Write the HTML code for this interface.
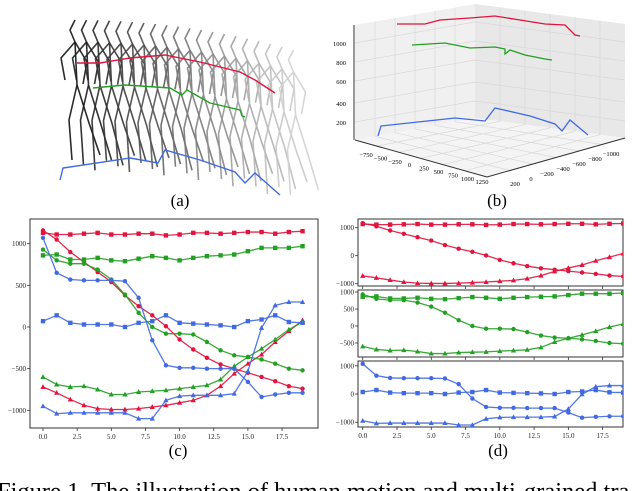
<!DOCTYPE html>
<html><head><meta charset="utf-8">
<style>
html,body{margin:0;padding:0;background:#fff;}
body{width:640px;height:491px;overflow:hidden;position:relative;font-family:"Liberation Serif",serif;}
svg{position:absolute;left:0;top:0;}
</style></head>
<body>
<svg id="fig" width="640" height="491" viewBox="0 0 640 491">
  <g id="panelA"></g>
  <g id="panelB"></g>
  <g id="panelC"></g>
  <g id="panelD"></g>
  <text x="180" y="206" font-size="17" text-anchor="middle">(a)</text>
  <text x="497" y="206" font-size="17" text-anchor="middle">(b)</text>
  <text x="178" y="456" font-size="17" text-anchor="middle">(c)</text>
  <text x="498" y="456" font-size="17" text-anchor="middle">(d)</text>
  <text x="-3" y="499" font-size="24.5">Figure 1. The illustration of human motion and multi-grained tra</text>
</svg>
<script>
const NS="http://www.w3.org/2000/svg";
function mk(tag,attrs,parent){const e=document.createElementNS(NS,tag);for(const k in attrs)e.setAttribute(k,attrs[k]);parent.appendChild(e);return e;}

// ---- chart data (c) & (d) ----
const frames=[0,1,2,3,4,5,6,7,8,9,10,11,12,13,14,15,16,17,18,19];
const xTicks=[0,2.5,5,7.5,10,12.5,15,17.5];
const xTickLabels=["0.0","2.5","5.0","7.5","10.0","12.5","15.0","17.5"];
const redSquares=[1130,1110,1110,1120,1130,1110,1110,1120,1120,1100,1110,1130,1130,1120,1130,1140,1140,1120,1140,1150];
const redCircles=[1160,1050,900,780,660,540,380,250,140,10,-150,-270,-370,-450,-500,-550,-600,-650,-710,-740];
const redTriangles=[-720,-790,-870,-940,-980,-990,-990,-980,-960,-940,-910,-880,-820,-710,-560,-440,-330,-180,-50,80];
const greenSquares=[860,870,810,810,830,800,790,820,850,830,800,830,850,860,870,910,950,950,950,970];
const greenCircles=[930,800,760,760,690,570,390,170,0,-80,-80,-90,-180,-280,-340,-360,-390,-440,-500,-520];
const greenTriangles=[-600,-690,-720,-710,-750,-810,-810,-780,-770,-760,-740,-720,-700,-630,-470,-360,-260,-150,-30,60];
const blueSquares=[70,140,50,30,30,30,0,50,70,140,50,40,30,20,0,70,90,140,60,50];
const blueCircles=[1070,650,570,560,560,560,550,350,-160,-460,-490,-490,-500,-500,-500,-660,-840,-810,-790,-790];
const blueTriangles=[-950,-1040,-1030,-1030,-1030,-1030,-1030,-1100,-1100,-880,-830,-820,-820,-820,-800,-530,-10,260,300,300];
const cYTicks=[-1000,-500,0,500,1000];
const d1YTicks=[-1000,0,1000];
const d2YTicks=[-500,0,500,1000];
const d3YTicks=[-1000,0,1000];

const RED="#e0143c",GREEN="#22a022",BLUE="#4169e1";
const seriesList=[
 {name:"red-squares",v:redSquares,c:RED,m:"s",g:0},
 {name:"red-circles",v:redCircles,c:RED,m:"o",g:0},
 {name:"red-triangles",v:redTriangles,c:RED,m:"t",g:0},
 {name:"green-squares",v:greenSquares,c:GREEN,m:"s",g:1},
 {name:"green-circles",v:greenCircles,c:GREEN,m:"o",g:1},
 {name:"green-triangles",v:greenTriangles,c:GREEN,m:"t",g:1},
 {name:"blue-squares",v:blueSquares,c:BLUE,m:"s",g:2},
 {name:"blue-circles",v:blueCircles,c:BLUE,m:"o",g:2},
 {name:"blue-triangles",v:blueTriangles,c:BLUE,m:"t",g:2}
];

function marker(g,m,x,y,c){
  let e;
  if(m==="s") e=mk("rect",{x:x-2.2,y:y-2.2,width:4.4,height:4.4,fill:c},g);
  else if(m==="o") e=mk("circle",{cx:x,cy:y,r:2.2,fill:c},g);
  else e=mk("polygon",{points:`${x},${y-2.8} ${x+2.6},${y+2} ${x-2.6},${y+2}`,fill:c},g);
  
  
}

function axesBox(parent,L,R,T,B,sx,sy,yTicks,showX,name){
  const g=mk("g",{},parent);
  
  
  const box=mk("rect",{x:L,y:T,width:R-L,height:B-T,fill:"none",stroke:"#333","stroke-width":1},g);
  
  
  yTicks.forEach(t=>{
    const y=sy(t);
    mk("line",{x1:L-3,x2:L,y1:y,y2:y,stroke:"#333","stroke-width":0.8},g);
    const tx=mk("text",{x:L-4,y:y+2.5,"font-size":7,"text-anchor":"end",fill:"#222"},g);
    tx.textContent=t<0?"\u2212"+Math.abs(t):String(t);
    
    
  });
  xTicks.forEach((t,i)=>{
    const x=sx(t);
    mk("line",{x1:x,x2:x,y1:B,y2:B+3,stroke:"#333","stroke-width":0.8},g);
    if(showX){
      const tx=mk("text",{x:x,y:B+11,"font-size":7,"text-anchor":"middle",fill:"#222"},g);
      tx.textContent=xTickLabels[i];
      
      
    }
  });
  return g;
}

function drawSeries(parent,s,sx,sy,clipId){
  const g=mk("g",{"clip-path":"url(#"+clipId+")"},parent);
  
  
  const pts=frames.map((f,i)=>sx(f)+","+sy(s.v[i])).join(" ");
  const pl=mk("polyline",{points:pts,fill:"none",stroke:s.c,"stroke-width":1.3,"stroke-opacity":0.9},g);
  
  
  frames.forEach((f,i)=>marker(g,s.m,sx(f),sy(s.v[i]),s.c));
}

const defs=mk("defs",{},document.getElementById("fig"));
function clip(id,L,T,R,B){const c=mk("clipPath",{id:id},defs);mk("rect",{x:L,y:T,width:R-L,height:B-T},c);}

// Panel (c)
(function(){
  const P=document.getElementById("panelC");
  const L=30,R=318,T=219,B=428;
  const sx=f=>43+f*13.66;
  const sy=v=>327-v*0.0833;
  axesBox(P,L,R,T,B,sx,sy,cYTicks,true,"panel-c-axes");
  clip("clipC",L,T,R,B);
  seriesList.forEach(s=>drawSeries(P,s,sx,sy,"clipC"));
})();

// Panel (d)
(function(){
  const P=document.getElementById("panelD");
  const L=358,R=623;
  const sx=f=>362.7+f*13.71;
  const subs=[
    {T:219,B:286,zero:255.7,k:0.0280,ticks:d1YTicks},
    {T:290,B:357,zero:326,k:0.0340,ticks:d2YTicks},
    {T:361,B:427,zero:394,k:0.0282,ticks:d3YTicks}
  ];
  subs.forEach((s,i)=>{
    const sy=v=>s.zero-v*s.k;
    axesBox(P,L,R,s.T,s.B,sx,sy,s.ticks,i===2,"panel-d-subplot-"+(i+1));
    clip("clipD"+i,L,s.T,R,s.B);
    seriesList.filter(q=>q.g===i).forEach(q=>drawSeries(P,q,sx,sy,"clipD"+i));
  });
})();

// Panel (a) skeleton illustration
(function(){
  const P=document.getElementById("panelA");
  const n=20;
  for(let i=0;i<n;i++){
    const t=i/(n-1);
    const gray=Math.round(20+t*190);
    const col=`rgb(${gray},${gray},${gray})`;
    const x=75+i*11.5;
    const top=20+Math.pow(t,2)*30;
    const g=mk("g",{stroke:col,"stroke-width":1.6,fill:"none","stroke-opacity":0.9},P);
    
    
    const hip=top+65, foot=top+140+(i%3)*5;
    mk("polyline",{points:`${x},${top} ${x-5},${top+10} ${x},${top+22} ${x+2},${hip}`},g);
    mk("polyline",{points:`${x},${top+22} ${x-14},${top+38} ${x-10},${top+60}`},g);
    mk("polyline",{points:`${x},${top+22} ${x+12},${top+42} ${x+8},${top+64}`},g);
    mk("polyline",{points:`${x+2},${hip} ${x-6},${hip+35} ${x-3},${foot}`},g);
    mk("polyline",{points:`${x+2},${hip} ${x+14},${hip+38} ${x+25},${foot-5}`},g);
  }
  const red=mk("polyline",{points:"77,63 100,63 130,58 165,55 200,62 240,72 255,80 275,93",fill:"none",stroke:RED,"stroke-width":1.4},P);
  
  const gr=mk("polyline",{points:"93,88 125,85 170,88 182,95 187,90 210,103 240,110 242,116 245,117",fill:"none",stroke:GREEN,"stroke-width":1.4},P);
  
  const bl=mk("polyline",{points:"60,180 63,168 130,158 158,163 165,150 200,160 235,172 245,183 255,173 280,195",fill:"none",stroke:BLUE,"stroke-width":1.4},P);
  
})();

// Panel (b) 3D plot
(function(){
  const P=document.getElementById("panelB");
  const g=mk("g",{},P);
  mk("polygon",{points:"355,25 475,4 475,118 355,140",fill:"#f0f0f0"},g);
  mk("polygon",{points:"475,4 625,24 625,138 475,118",fill:"#e8e8e8"},g);
  mk("polygon",{points:"355,140 475,118 625,138 487,177",fill:"#f4f4f4"},g);
  const gs={stroke:"#d8d8d8","stroke-width":0.7};
  for(let k=1;k<6;k++){
    const a=k/6;
    mk("line",Object.assign({x1:355+120*a,y1:25-21*a,x2:355+120*a,y2:140-22*a},gs),g);
    mk("line",Object.assign({x1:475+150*a,y1:4+20*a,x2:475+150*a,y2:118+20*a},gs),g);
    mk("line",Object.assign({x1:355+120*a,y1:140-22*a,x2:487+138*a,y2:177-39*a},gs),g);
    mk("line",Object.assign({x1:475+150*a,y1:118+20*a,x2:355+132*a,y2:140+37*a},gs),g);
  }
  [43,62,81,103,122].forEach(y=>{
    const d=y-25;
    mk("line",Object.assign({x1:355,y1:25+d,x2:475,y2:4+d},gs),g);
    mk("line",Object.assign({x1:475,y1:4+d,x2:625,y2:24+d},gs),g);
  });
  mk("line",{x1:354,y1:25,x2:354,y2:140,stroke:"#333","stroke-width":1},g);
  mk("line",{x1:355,y1:140,x2:487,y2:177,stroke:"#333","stroke-width":1},g);
  mk("line",{x1:487,y1:177,x2:625,y2:138,stroke:"#333","stroke-width":1},g);
  const zl=[["1000",43],["800",62],["600",81],["400",103],["200",122]];
  zl.forEach(([t,y])=>{const e=mk("text",{x:346,y:y+3,"font-size":6.5,"text-anchor":"end"},g);e.textContent=t;
    });
  const xl=["\u2212750","\u2212500","\u2212250","0","250","500","750","1000","1250"];
  xl.forEach((t,i)=>{const e=mk("text",{x:366+i*14.5,y:157+i*3.4,"font-size":6.5,"text-anchor":"middle"},g);e.textContent=t;
    });
  const yl=["200","0","\u2212200","\u2212400","\u2212600","\u2212800","\u22121000"];
  yl.forEach((t,i)=>{const e=mk("text",{x:515+i*16,y:186-i*5,"font-size":6.5,"text-anchor":"middle"},g);e.textContent=t;
    });
  const r=mk("polyline",{points:"397,24 425,24 440,20 470,18 495,16 520,20 545,24 565,25 575,35 580,36",fill:"none",stroke:RED,"stroke-width":1.3},g);
  
  const gn=mk("polyline",{points:"412,45 445,43 470,48 495,47 505,49 505,54 510,50 525,55 545,59 552,60",fill:"none",stroke:GREEN,"stroke-width":1.3},g);
  
  const b=mk("polyline",{points:"378,136 381,126 455,118 485,121 495,108 530,116 555,124 562,131 570,120 588,135",fill:"none",stroke:BLUE,"stroke-width":1.3},g);
  
})();
</script>
</body></html>
